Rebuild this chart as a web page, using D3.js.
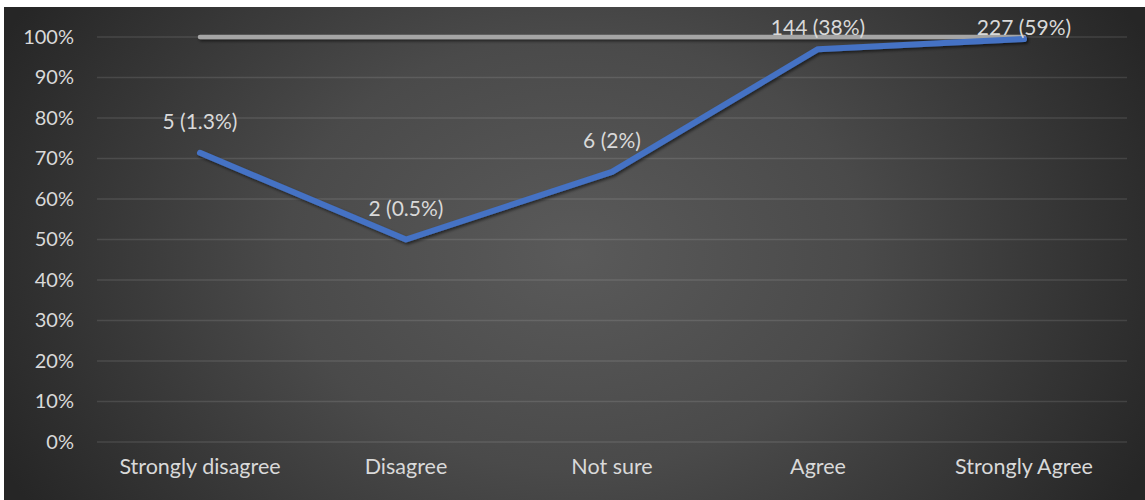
<!DOCTYPE html>
<html><head><meta charset="utf-8">
<script src="https://cdn.jsdelivr.net/npm/d3@7"></script>
<style>html,body{margin:0;padding:0;background:#fff;}svg{display:block;}</style>
</head><body>
<script>
const categories = ["Strongly disagree", "Disagree", "Not sure", "Agree", "Strongly Agree"];
const cumulativeValues = [0.714, 0.50, 0.667, 0.97, 0.995];
const totalValues = [1, 1, 1, 1, 1];
const dataLabels = ["5 (1.3%)", "2 (0.5%)", "6 (2%)", "144 (38%)", "227 (59%)"];
const yTicks = [0, 0.1, 0.2, 0.3, 0.4, 0.5, 0.6, 0.7, 0.8, 0.9, 1.0];

const W = 1145, H = 500;
const FONT = "Lato, 'Open Sans', sans-serif";
const svg = d3.select("body").append("svg").attr("width", W).attr("height", H);
const defs = svg.append("defs");
const rg = defs.append("radialGradient").attr("id", "bg")
  .attr("gradientUnits", "userSpaceOnUse").attr("cx", 575).attr("cy", 253).attr("r", 640)
  .attr("gradientTransform", "translate(575,253) scale(1,0.75) translate(-575,-253)");
rg.append("stop").attr("offset", "0%").attr("stop-color", "#5a5a5a");
rg.append("stop").attr("offset", "45%").attr("stop-color", "#4a4a4a");
rg.append("stop").attr("offset", "100%").attr("stop-color", "#262626");
const sh = defs.append("filter").attr("id", "shadow").attr("filterUnits", "userSpaceOnUse")
  .attr("x", 0).attr("y", 0).attr("width", W).attr("height", H);
sh.append("feDropShadow").attr("dx", 1.5).attr("dy", 2).attr("stdDeviation", 1.8).attr("flood-color", "#000").attr("flood-opacity", 0.55);

svg.append("rect").attr("x", 4).attr("y", 7).attr("width", W - 4).attr("height", H - 7).attr("fill", "url(#bg)");

const x = d3.scaleBand().domain(categories).range([97, 1127]).padding(0);
const y = d3.scaleLinear().domain([0, 1]).range([442, 37]);
const cx = d => x(d) + x.bandwidth() / 2;

// gridlines
svg.append("g").selectAll("line").data(yTicks).join("line")
  .attr("x1", 97).attr("x2", 1127)
  .attr("y1", d => y(d)).attr("y2", d => y(d))
  .attr("stroke", "rgba(255,255,255,0.11)").attr("stroke-width", 1.5);

// y axis labels
const yAxis = d3.axisLeft(y).tickValues(yTicks).tickFormat(d3.format(".0%")).tickSize(0).tickPadding(0);
const ya = svg.append("g").attr("transform", "translate(74,0)").call(yAxis);
ya.select(".domain").remove();
ya.selectAll("text").attr("fill", "#d9d9d9").attr("font-size", 20).attr("font-family", FONT);

// x axis labels
const xAxis = d3.axisBottom(x).tickSize(0).tickPadding(0);
const xa = svg.append("g").attr("transform", "translate(0,459)").call(xAxis);
xa.select(".domain").remove();
xa.selectAll("text").attr("fill", "#d9d9d9").attr("font-size", 21.5).attr("font-family", FONT);

const line = d3.line().x(d => cx(d[0])).y(d => y(d[1]));

// gray total line
svg.append("path").datum(categories.map((c, i) => [c, totalValues[i]]))
  .attr("d", line).attr("fill", "none").attr("stroke", "#a5a5a5").attr("stroke-width", 4.5)
  .attr("stroke-linecap", "round").attr("stroke-linejoin", "round").attr("filter", "url(#shadow)");

// blue line
svg.append("path").datum(categories.map((c, i) => [c, cumulativeValues[i]]))
  .attr("d", line).attr("fill", "none").attr("stroke", "#4472c4").attr("stroke-width", 6)
  .attr("stroke-linecap", "round").attr("stroke-linejoin", "round").attr("filter", "url(#shadow)");

// data labels
svg.append("g").selectAll("text").data(categories).join("text")
  .attr("x", d => cx(d))
  .attr("y", (d, i) => Math.max(y(cumulativeValues[i]) - 31, 28))
  .attr("dy", "0.35em")
  .attr("text-anchor", "middle").attr("fill", "#d9d9d9").attr("font-size", 21)
  .attr("font-family", FONT)
  .text((d, i) => dataLabels[i]);
</script>
</body></html>
